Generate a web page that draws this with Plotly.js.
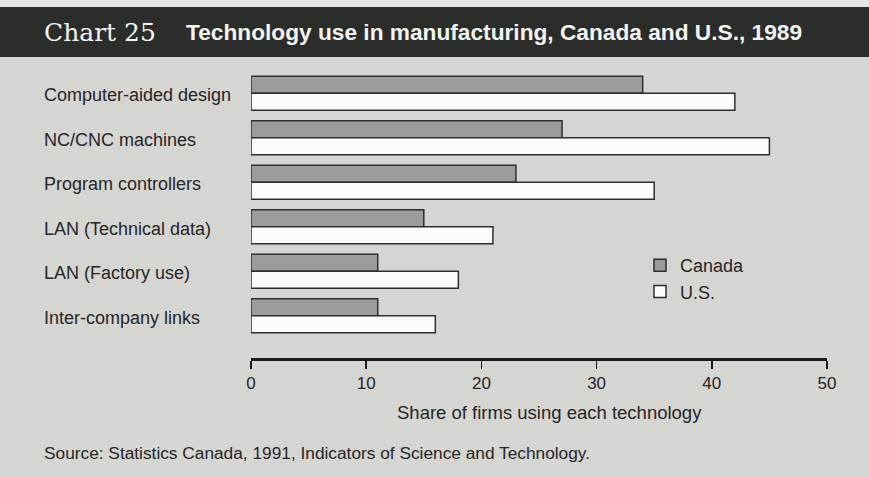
<!DOCTYPE html>
<html>
<head>
<meta charset="utf-8">
<script src="https://cdn.plot.ly/plotly-3.0.1.min.js"></script>
<style>
  html, body { margin: 0; padding: 0; background: #d6d6d3; }
  #chart { width: 869px; height: 477px; }
</style>
</head>
<body>
<div id="chart"></div>
<script>
// ---- data ----
var categories = [
  "Computer-aided design",
  "NC/CNC machines",
  "Program controllers",
  "LAN (Technical data)",
  "LAN (Factory use)",
  "Inter-company links"
];
var canadaValues = [34, 27, 23, 15, 11, 11];
var usValues = [42, 45, 35, 21, 18, 16];
var seriesNames = ["Canada", "U.S."];
var xTickValues = [0, 10, 20, 30, 40, 50];
var headerLabel = "Chart 25";
var titleText = "Technology use in manufacturing, Canada and U.S., 1989";
var xAxisTitle = "Share of firms using each technology";
var sourceText = "Source: Statistics Canada, 1991, Indicators of Science and Technology.";

// ---- layout helpers (pixel -> paper) ----
var W = 869, H = 477;
var mL = 251, mR = 42, mT = 71, mB = 119;
var pw = W - mL - mR, ph = H - mT - mB;
function px(x) { return (x - mL) / pw; }
function py(y) { return (H - mB - y) / ph; }

var textColor = "#262626";
var sans = "Liberation Sans, Arial, sans-serif";

var traces = [
  {
    type: "bar", orientation: "h", name: seriesNames[0],
    y: categories, x: canadaValues,
    marker: { color: "#9c9c99", line: { color: "#2e2e2e", width: 1.5 } },
    legendgroup: "a"
  },
  {
    type: "bar", orientation: "h", name: seriesNames[1],
    y: categories, x: usValues,
    marker: { color: "#fbfbfa", line: { color: "#2e2e2e", width: 1.5 } },
    legendgroup: "b"
  }
];

var annotations = categories.map(function (c) {
  return {
    xref: "paper", yref: "y", x: px(42), y: c, xanchor: "left", yanchor: "middle",
    yshift: -2,
    text: c, showarrow: false,
    font: { family: sans, size: 18, color: textColor }
  };
});
annotations.push({
  xref: "paper", yref: "paper", x: px(42), y: py(32), xanchor: "left", yanchor: "middle",
  text: headerLabel, showarrow: false,
  font: { family: "DejaVu Serif, serif", size: 25, color: "#f4f4f2" }
});
annotations.push({
  xref: "paper", yref: "paper", x: px(184), y: py(32), xanchor: "left", yanchor: "middle",
  text: "<b>" + titleText + "</b>", showarrow: false,
  font: { family: sans, size: 22.7, color: "#f4f4f2" }
});
annotations.push({
  xref: "paper", yref: "paper", x: px(549.5), y: py(412), xanchor: "center", yanchor: "middle",
  text: xAxisTitle, showarrow: false,
  font: { family: sans, size: 18.5, color: textColor }
});
annotations.push({
  xref: "paper", yref: "paper", x: px(42), y: py(453), xanchor: "left", yanchor: "middle",
  text: sourceText, showarrow: false,
  font: { family: sans, size: 17.3, color: textColor }
});

var layout = {
  width: W, height: H,
  margin: { l: mL, r: mR, t: mT, b: mB, pad: 0 },
  paper_bgcolor: "#d5d5d2",
  plot_bgcolor: "rgba(0,0,0,0)",
  barmode: "group",
  bargap: 0.24,
  bargroupgap: 0,
  showlegend: true,
  legend: {
    x: px(640), y: py(247), xanchor: "left", yanchor: "top",
    bgcolor: "rgba(0,0,0,0)",
    font: { family: sans, size: 18, color: textColor },
    tracegroupgap: 6,
    traceorder: "normal"
  },
  xaxis: {
    range: [0, 50], fixedrange: true,
    tickvals: xTickValues, ticktext: xTickValues.map(String),
    ticks: "outside", ticklen: 8, tickwidth: 1.5, tickcolor: "#1a1a1a",
    showline: true, linewidth: 3, linecolor: "#1a1a1a",
    showgrid: false, zeroline: false,
    tickfont: { family: sans, size: 17, color: textColor }
  },
  yaxis: {
    type: "category",
    range: [5.95, -0.5],
    showticklabels: false, ticks: "", showline: false, showgrid: false, zeroline: false,
    fixedrange: true
  },
  shapes: [
    { type: "rect", xref: "paper", yref: "paper", x0: px(0), x1: px(W), y0: py(7), y1: py(0),
      fillcolor: "#e6e6e3", line: { width: 0 }, layer: "below" },
    { type: "rect", xref: "paper", yref: "paper", x0: px(0), x1: px(W), y0: py(57), y1: py(7),
      fillcolor: "#2b2d2a", line: { width: 0 }, layer: "below" }
  ],
  annotations: annotations
};

Plotly.newPlot("chart", traces, layout, { displayModeBar: false, staticPlot: true });
</script>
</body>
</html>
